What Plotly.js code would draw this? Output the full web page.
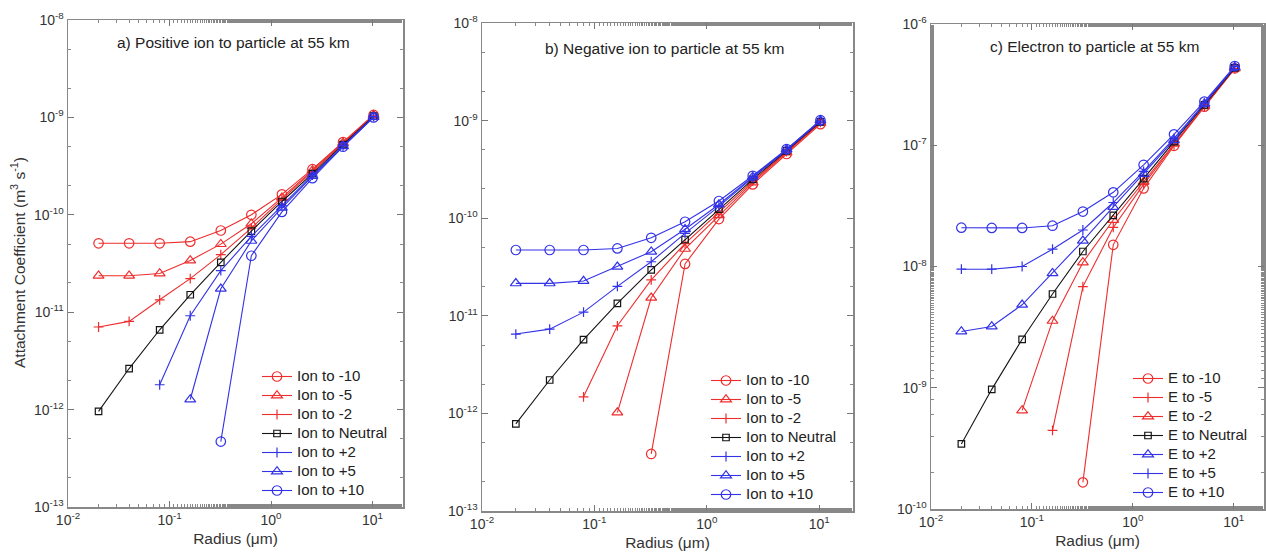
<!DOCTYPE html>
<html>
<head>
<meta charset="utf-8">
<script src="https://cdn.plot.ly/plotly-3.0.1.min.js"></script>
<style>
  html, body { margin: 0; padding: 0; background: #fff; }
  #chart { width: 1266px; height: 554px; }
</style>
</head>
<body>
<div id="chart"></div>
<script>
// Particle radius (µm)
const radius = [0.02, 0.04, 0.08, 0.16, 0.32, 0.64, 1.28, 2.56, 5.12, 10.24];

// a) Positive ion to particle at 55 km (m^3 s^-1)
const posIonToM10 = [5.1e-11, 5.1e-11, 5.1e-11, 5.3e-11, 6.9e-11, 1.0e-10, 1.62e-10, 2.94e-10, 5.57e-10, 1.06e-9];
const posIonToM5  = [2.37e-11, 2.37e-11, 2.5e-11, 3.4e-11, 5.0e-11, 8.1e-11, 1.5e-10, 2.85e-10, 5.45e-10, 1.05e-9];
const posIonToM2  = [7.05e-12, 8.05e-12, 1.34e-11, 2.21e-11, 3.9e-11, 7.3e-11, 1.44e-10, 2.78e-10, 5.4e-10, 1.04e-9];
const posIonToN   = [9.6e-13, 2.64e-12, 6.6e-12, 1.51e-11, 3.25e-11, 6.8e-11, 1.37e-10, 2.65e-10, 5.25e-10, 1.03e-9];
const posIonToP2  = [null, null, 1.8e-12, 9.2e-12, 2.67e-11, 6.0e-11, 1.24e-10, 2.55e-10, 5.1e-10, 1.02e-9];
const posIonToP5  = [null, null, null, 1.27e-12, 1.74e-11, 5.4e-11, 1.18e-10, 2.5e-10, 5.05e-10, 1.01e-9];
const posIonToP10 = [null, null, null, null, 4.7e-13, 3.8e-11, 1.07e-10, 2.38e-10, 5.0e-10, 1.0e-9];

// b) Negative ion to particle at 55 km (m^3 s^-1)
const negIonToM10 = [null, null, null, null, 3.84e-13, 3.4e-11, 9.8e-11, 2.22e-10, 4.55e-10, 9.2e-10];
const negIonToM5  = [null, null, null, 1.02e-12, 1.53e-11, 4.85e-11, 1.07e-10, 2.32e-10, 4.7e-10, 9.5e-10];
const negIonToM2  = [null, null, 1.48e-12, 7.9e-12, 2.33e-11, 5.5e-11, 1.15e-10, 2.4e-10, 4.8e-10, 9.6e-10];
const negIonToN   = [7.8e-13, 2.2e-12, 5.7e-12, 1.34e-11, 2.95e-11, 6.05e-11, 1.24e-10, 2.5e-10, 4.9e-10, 9.7e-10];
const negIonToP2  = [6.5e-12, 7.3e-12, 1.09e-11, 2.0e-11, 3.58e-11, 7.0e-11, 1.32e-10, 2.6e-10, 5.0e-10, 9.9e-10];
const negIonToP5  = [2.15e-11, 2.15e-11, 2.27e-11, 3.18e-11, 4.54e-11, 7.7e-11, 1.38e-10, 2.65e-10, 5.05e-10, 1.0e-9];
const negIonToP10 = [4.72e-11, 4.72e-11, 4.72e-11, 4.9e-11, 6.3e-11, 9.2e-11, 1.5e-10, 2.72e-10, 5.1e-10, 1.01e-9];

// c) Electron to particle at 55 km (m^3 s^-1)
const elecToM10 = [null, null, null, null, 1.66e-10, 1.51e-8, 4.41e-8, 9.9e-8, 2.08e-7, 4.31e-7];
const elecToM5  = [null, null, null, 4.45e-10, 6.83e-9, 2.1e-8, 4.75e-8, 1.01e-7, 2.08e-7, 4.28e-7];
const elecToM2  = [null, null, 6.5e-10, 3.56e-9, 1.08e-8, 2.42e-8, 5.0e-8, 1.03e-7, 2.1e-7, 4.3e-7];
const elecToN   = [3.44e-10, 9.7e-10, 2.51e-9, 5.93e-9, 1.33e-8, 2.64e-8, 5.3e-8, 1.07e-7, 2.15e-7, 4.35e-7];
const elecToP2  = [2.91e-9, 3.2e-9, 4.83e-9, 8.8e-9, 1.63e-8, 3.1e-8, 5.8e-8, 1.1e-7, 2.2e-7, 4.4e-7];
const elecToP5  = [9.5e-9, 9.5e-9, 1.0e-8, 1.39e-8, 2.0e-8, 3.37e-8, 6.1e-8, 1.14e-7, 2.22e-7, 4.45e-7];
const elecToP10 = [2.09e-8, 2.08e-8, 2.08e-8, 2.17e-8, 2.84e-8, 4.09e-8, 6.9e-8, 1.23e-7, 2.29e-7, 4.5e-7];

// Legend labels
const ionLabels = ['Ion to -10', 'Ion to -5', 'Ion to -2', 'Ion to Neutral', 'Ion to +2', 'Ion to +5', 'Ion to +10'];
const elecLabels = ['E to -10', 'E to -5', 'E to -2', 'E to Neutral', 'E to +2', 'E to +5', 'E to +10'];

// Axis tick labels
const xTickVals = [0.01, 0.1, 1, 10];
const xTickText = ['10<sup>-2</sup>', '10<sup>-1</sup>', '10<sup>0</sup>', '10<sup>1</sup>'];
const yTickValsIon = [1e-13, 1e-12, 1e-11, 1e-10, 1e-9, 1e-8];
const yTickTextIon = ['10<sup>-13</sup>', '10<sup>-12</sup>', '10<sup>-11</sup>', '10<sup>-10</sup>', '10<sup>-9</sup>', '10<sup>-8</sup>'];
const yTickValsElec = [1e-10, 1e-9, 1e-8, 1e-7, 1e-6];
const yTickTextElec = ['10<sup>-10</sup>', '10<sup>-9</sup>', '10<sup>-8</sup>', '10<sup>-7</sup>', '10<sup>-6</sup>'];

const RED = 'rgb(238,45,45)';
const BLUE = 'rgb(50,50,232)';
const BLACK = 'rgb(20,20,20)';
const FONT = 'Liberation Sans, Arial, sans-serif';

const W = 1266, H = 554;
const px = (a, b) => [a / W, b / W];
const py = (top, bottom) => [1 - bottom / H, 1 - top / H];

const markerStyle = {
  circle:   { symbol: 'circle-open', size: 9.5 },
  triangle: { symbol: 'triangle-up-open', size: 9.5 },
  plus:     { symbol: 'cross-thin-open', size: 7 },
  square:   { symbol: 'square-open', size: 6.5 }
};

// Legend entries keep a compact row height (small legend font) while the label itself is drawn larger
const legendName = (s) => '<span style="font-size:15px">' + s + '</span>';

function series(y, name, color, shape, xa, ya, legend) {
  const m = markerStyle[shape];
  return {
    type: 'scatter', mode: 'lines+markers',
    x: radius, y: y, name: legendName(name),
    xaxis: xa, yaxis: ya, legend: legend,
    line: { color: color, width: 1.1 },
    marker: { symbol: m.symbol, size: m.size, color: color, line: { color: color, width: 1.2 } }
  };
}

const traces = [
  series(posIonToM10, ionLabels[0], RED, 'circle', 'x', 'y', 'legend'),
  series(posIonToM5,  ionLabels[1], RED, 'triangle', 'x', 'y', 'legend'),
  series(posIonToM2,  ionLabels[2], RED, 'plus', 'x', 'y', 'legend'),
  series(posIonToN,   ionLabels[3], BLACK, 'square', 'x', 'y', 'legend'),
  series(posIonToP2,  ionLabels[4], BLUE, 'plus', 'x', 'y', 'legend'),
  series(posIonToP5,  ionLabels[5], BLUE, 'triangle', 'x', 'y', 'legend'),
  series(posIonToP10, ionLabels[6], BLUE, 'circle', 'x', 'y', 'legend'),

  series(negIonToM10, ionLabels[0], RED, 'circle', 'x2', 'y2', 'legend2'),
  series(negIonToM5,  ionLabels[1], RED, 'triangle', 'x2', 'y2', 'legend2'),
  series(negIonToM2,  ionLabels[2], RED, 'plus', 'x2', 'y2', 'legend2'),
  series(negIonToN,   ionLabels[3], BLACK, 'square', 'x2', 'y2', 'legend2'),
  series(negIonToP2,  ionLabels[4], BLUE, 'plus', 'x2', 'y2', 'legend2'),
  series(negIonToP5,  ionLabels[5], BLUE, 'triangle', 'x2', 'y2', 'legend2'),
  series(negIonToP10, ionLabels[6], BLUE, 'circle', 'x2', 'y2', 'legend2'),

  series(elecToM10, elecLabels[0], RED, 'circle', 'x3', 'y3', 'legend3'),
  series(elecToM5,  elecLabels[1], RED, 'plus', 'x3', 'y3', 'legend3'),
  series(elecToM2,  elecLabels[2], RED, 'triangle', 'x3', 'y3', 'legend3'),
  series(elecToN,   elecLabels[3], BLACK, 'square', 'x3', 'y3', 'legend3'),
  series(elecToP2,  elecLabels[4], BLUE, 'triangle', 'x3', 'y3', 'legend3'),
  series(elecToP5,  elecLabels[5], BLUE, 'plus', 'x3', 'y3', 'legend3'),
  series(elecToP10, elecLabels[6], BLUE, 'circle', 'x3', 'y3', 'legend3')
];

const tickFont = { family: FONT, size: 14, color: '#333' };

function xAxis(domain, anchor) {
  return {
    type: 'log', range: [-2, 1.3], domain: domain, anchor: anchor,
    tickvals: xTickVals, ticktext: xTickText, tickfont: tickFont,
    ticks: 'inside', ticklen: 6, tickcolor: '#777', tickwidth: 1,
    minor: { ticks: 'inside', ticklen: 3, tickcolor: '#888', showgrid: false },
    showline: true, linecolor: '#888', linewidth: 1.5, mirror: 'allticks',
    showgrid: false, zeroline: false,
    title: { text: 'Radius (\u03bcm)', font: { family: FONT, size: 15.5, color: '#333' }, standoff: 6 }
  };
}
function yAxis(domain, anchor, range, vals, text) {
  return {
    type: 'log', range: range, domain: domain, anchor: anchor,
    tickvals: vals, ticktext: text, tickfont: tickFont,
    ticks: 'inside', ticklen: 6, tickcolor: '#777', tickwidth: 1,
    minor: { ticks: 'inside', ticklen: 3, tickcolor: '#888', showgrid: false },
    showline: true, linecolor: '#888', linewidth: 1.5, mirror: 'allticks',
    showgrid: false, zeroline: false
  };
}

function legendAt(left, top) {
  return {
    x: left / W, y: 1 - top / H, xanchor: 'left', yanchor: 'top',
    bgcolor: 'rgba(0,0,0,0)', borderwidth: 0,
    font: { family: FONT, size: 12, color: '#222' },
    tracegroupgap: 0, itemwidth: 30
  };
}

const titleFont = { family: FONT, size: 15.5, color: '#222' };

const layout = {
  width: W, height: H,
  margin: { l: 0, r: 0, t: 0, b: 0 },
  paper_bgcolor: '#fff', plot_bgcolor: '#fff',
  showlegend: true,
  xaxis:  xAxis(px(68, 403), 'y'),
  xaxis2: xAxis(px(482, 853), 'y2'),
  xaxis3: xAxis(px(931, 1264), 'y3'),
  yaxis:  yAxis(py(20, 507), 'x', [-13, -8], yTickValsIon, yTickTextIon),
  yaxis2: yAxis(py(23, 511), 'x2', [-13, -8], yTickValsIon, yTickTextIon),
  yaxis3: yAxis(py(24, 509), 'x3', [-10, -6], yTickValsElec, yTickTextElec),
  legend:  legendAt(257, 362),
  legend2: legendAt(706, 366),
  legend3: legendAt(1128, 364),
  annotations: [
    { text: 'a) Positive ion to particle at 55 km', xref: 'paper', yref: 'paper', x: 233 / W, y: 1 - 43 / H,
      xanchor: 'center', yanchor: 'middle', showarrow: false, font: titleFont },
    { text: 'b) Negative ion to particle at 55 km', xref: 'paper', yref: 'paper', x: 665 / W, y: 1 - 48 / H,
      xanchor: 'center', yanchor: 'middle', showarrow: false, font: titleFont },
    { text: 'c) Electron to particle at 55 km', xref: 'paper', yref: 'paper', x: 1094 / W, y: 1 - 47 / H,
      xanchor: 'center', yanchor: 'middle', showarrow: false, font: titleFont },
    { text: 'Attachment Coefficient (m<sup>3</sup> s<sup>-1</sup>)', xref: 'paper', yref: 'paper',
      x: 18 / W, y: 1 - 263 / H, xanchor: 'center', yanchor: 'middle', textangle: -90, showarrow: false,
      font: { family: FONT, size: 15.5, color: '#333' } }
  ]
};

Plotly.newPlot('chart', traces, layout, { displayModeBar: false, staticPlot: true });
</script>
</body>
</html>
